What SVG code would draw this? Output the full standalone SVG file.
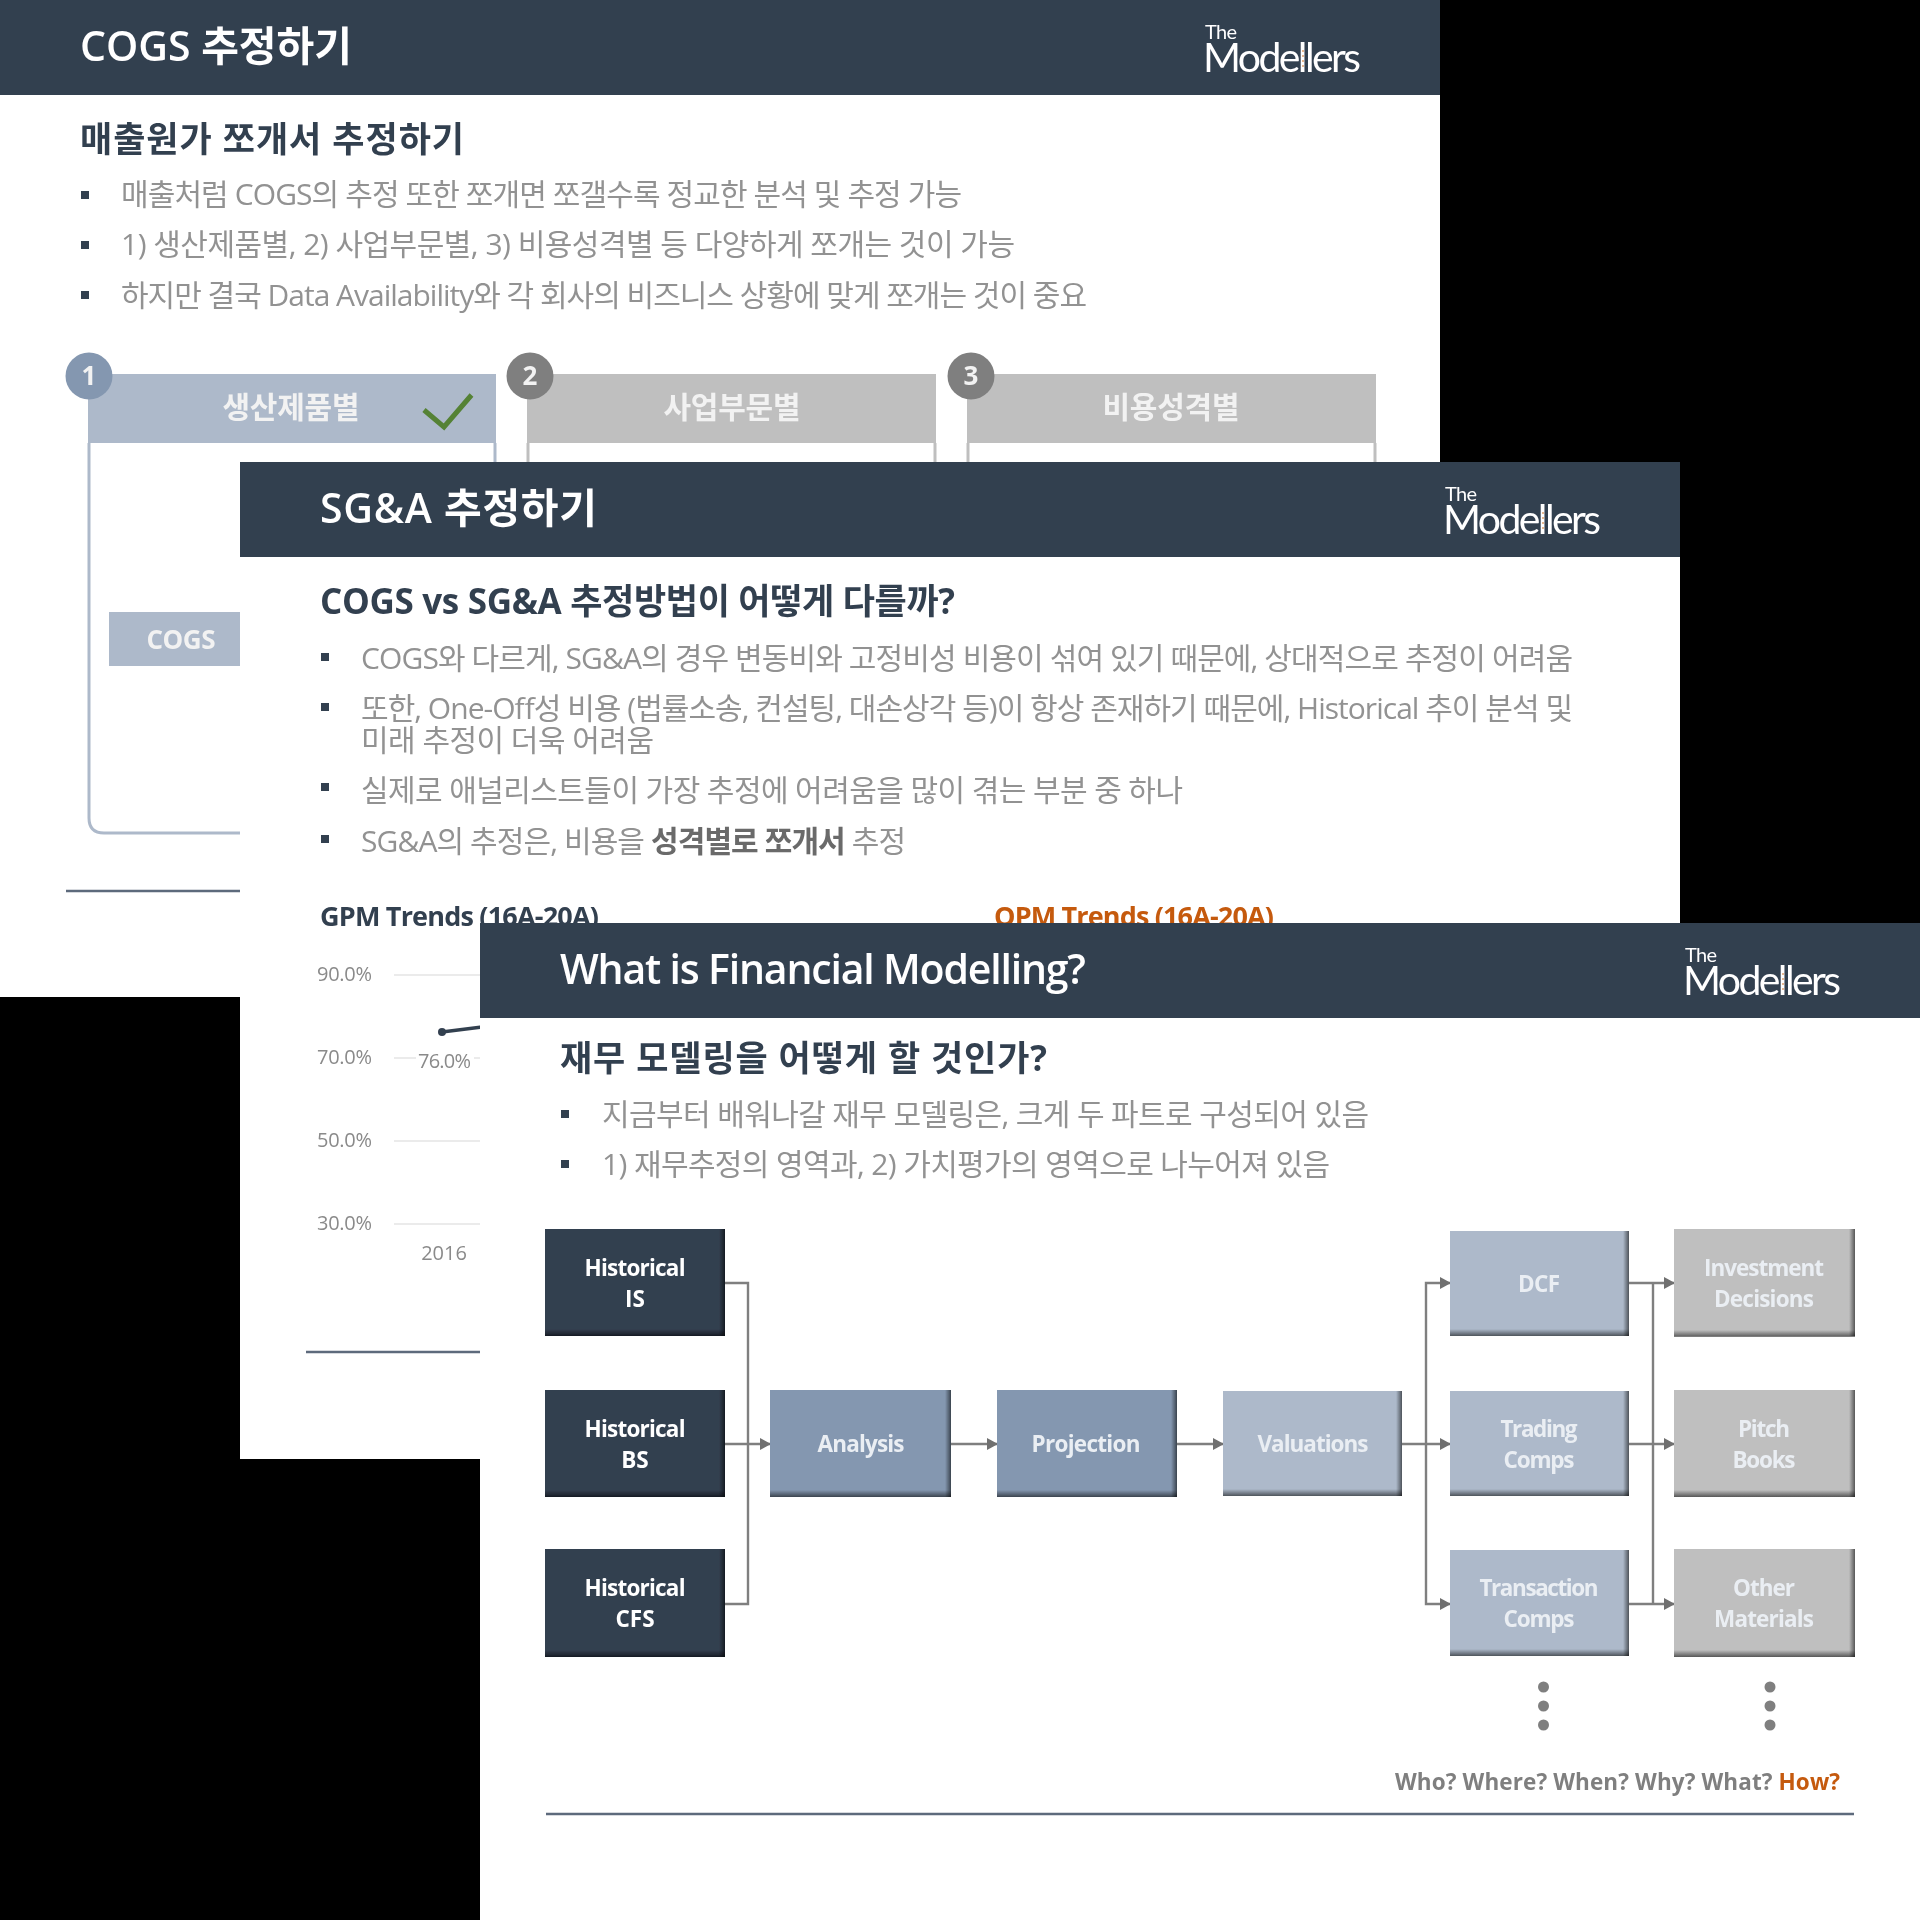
<svg xmlns="http://www.w3.org/2000/svg" width="1920" height="1920" viewBox="0 0 1920 1920">
<style>
text{font-family:"Open Sans","Noto Sans CJK KR",sans-serif}
.hdr{fill:#333f50}
.ttl{font-size:41px;font-weight:600;fill:#fff}
.sub{font-size:35px;font-weight:700;fill:#333f50}
.bul{font-size:30px;fill:#929292}
.bold{font-weight:700;fill:#6a6a6a}
.sq{fill:#333f50}
.logoA{font-family:Lato,"Open Sans",sans-serif;font-size:20px;font-weight:400;fill:#fff}
.logoB{font-family:Lato,"Open Sans",sans-serif;font-size:41px;font-weight:400;fill:#fff}
.ldot{stroke:#d98a4a;stroke-width:1.2;stroke-dasharray:2 3;fill:none}
.foot{stroke:#5d6a7c;stroke-width:2.5;fill:none}
.hlab{font-size:30px;font-weight:700;fill:#f2f2f2;text-anchor:middle}
.num{font-size:26px;font-weight:700;fill:#f2f2f2;text-anchor:middle}
.axis{font-size:20px;fill:#8a8a8a}
.grid{stroke:#ebebeb;stroke-width:2}
.lab{font-size:22.5px;font-weight:700;fill:#fff;text-anchor:middle}
.lab2{font-size:22.5px;font-weight:700;fill:#eaeef3;text-anchor:middle}
.n0{fill:#333f50}.n1{fill:#8497b0}.n2{fill:#adb9ca}.n3{fill:#bfbfbf}
.bR{fill:url(#gR)}.bB{fill:url(#gB)}
.conn{fill:none;stroke:#7f7f7f;stroke-width:2.4}
.arr{marker-end:url(#ah)}
.dot{fill:#7f7f7f}
</style>
<defs>
<linearGradient id="gR" x1="0" y1="0" x2="1" y2="0"><stop offset="0" stop-color="#000" stop-opacity="0"/><stop offset="1" stop-color="#000" stop-opacity=".55"/></linearGradient>
<linearGradient id="gB" x1="0" y1="0" x2="0" y2="1"><stop offset="0" stop-color="#000" stop-opacity="0"/><stop offset="1" stop-color="#000" stop-opacity=".55"/></linearGradient>
<marker id="ah" markerUnits="userSpaceOnUse" markerWidth="12" markerHeight="14" refX="10" refY="7" orient="auto"><path d="M0 1L11 7L0 13z" fill="#6f6f6f"/></marker>
<filter id="soft" filterUnits="userSpaceOnUse" x="0" y="0" width="1920" height="1920"><feGaussianBlur stdDeviation="0.7"/></filter>
</defs>
<rect width="1920" height="1920" fill="#000"/>
<g filter="url(#soft)">
<g id="slide-cogs">
<rect width="1440" height="997" fill="#fff"/>
<rect class="hdr" width="1440" height="95"/>
<text class="ttl" x="80" y="61" textLength="272">COGS 추정하기</text>
<g><text class="logoA" x="1205" y="39" textLength="32">The</text><text class="logoB" x="1203" y="72" textLength="158">Modellers</text><path class="ldot" d="M1303 50V70"/></g>
<text class="sub" x="80" y="152" textLength="384">매출원가 쪼개서 추정하기</text>
<rect class="sq" x="81" y="191" width="8" height="8"/><rect class="sq" x="81" y="241" width="8" height="8"/><rect class="sq" x="81" y="291" width="8" height="8"/>
<text class="bul" x="121" y="205" textLength="841">매출처럼 COGS의 추정 또한 쪼개면 쪼갤수록 정교한 분석 및 추정 가능</text>
<text class="bul" x="121" y="255" textLength="894">1) 생산제품별, 2) 사업부문별, 3) 비용성격별 등 다양하게 쪼개는 것이 가능</text>
<text class="bul" x="121" y="306" textLength="966">하지만 결국 Data Availability와 각 회사의 비즈니스 상황에 맞게 쪼개는 것이 중요</text>
<g id="cogs-box1">
<path d="M89 443V818Q89 833 104 833H240" fill="none" stroke="#adb9ca" stroke-width="3"/>
<path d="M495 443V470" fill="none" stroke="#adb9ca" stroke-width="3"/>
<rect x="88" y="374" width="408" height="69" fill="#adb9ca"/>
<circle cx="89" cy="376" r="23.5" fill="#8497b0"/>
<text class="num" x="89" y="385">1</text>
<text class="hlab" x="291" y="418" textLength="137">생산제품별</text>
<path d="M424 410L444 427L471.5 395" fill="none" stroke="#548235" stroke-width="5"/>
<rect x="109" y="612" width="140" height="54" fill="#adb9ca"/>
<text x="181" y="649" font-size="26" font-weight="700" fill="#f2f2f2" text-anchor="middle" textLength="69">COGS</text>
</g>
<g id="cogs-box2">
<path d="M528 443V470M935 443V470" fill="none" stroke="#bfbfbf" stroke-width="3"/>
<rect x="527" y="374" width="409" height="69" fill="#bfbfbf"/>
<circle cx="530" cy="376" r="23.5" fill="#7f7f7f"/>
<text class="num" x="530" y="385">2</text>
<text class="hlab" x="732" y="418" textLength="137">사업부문별</text>
</g>
<g id="cogs-box3">
<path d="M968 443V470M1375 443V470" fill="none" stroke="#bfbfbf" stroke-width="3"/>
<rect x="967" y="374" width="409" height="69" fill="#bfbfbf"/>
<circle cx="971" cy="376" r="23.5" fill="#7f7f7f"/>
<text class="num" x="971" y="385">3</text>
<text class="hlab" x="1171" y="418" textLength="137">비용성격별</text>
</g>
<path class="foot" d="M66 891H245"/>
</g>
<g id="slide-sga">
<rect x="240" y="462" width="1440" height="997" fill="#fff"/>
<rect class="hdr" x="240" y="462" width="1440" height="95"/>
<text class="ttl" x="320" y="523" textLength="277">SG&amp;A 추정하기</text>
<g><text class="logoA" x="1445" y="501" textLength="32">The</text><text class="logoB" x="1443" y="534" textLength="158">Modellers</text><path class="ldot" d="M1543 512V532"/></g>
<text class="sub" x="320" y="614" textLength="635">COGS vs SG&amp;A 추정방법이 어떻게 다를까?</text>
<rect class="sq" x="321" y="653" width="8" height="8"/><rect class="sq" x="321" y="703" width="8" height="8"/><rect class="sq" x="321" y="783" width="8" height="8"/><rect class="sq" x="321" y="835" width="8" height="8"/>
<text class="bul" x="361" y="669" textLength="1212">COGS와 다르게, SG&amp;A의 경우 변동비와 고정비성 비용이 섞여 있기 때문에, 상대적으로 추정이 어려움</text>
<text class="bul" x="361" y="719" textLength="1212">또한, One-Off성 비용 (법률소송, 컨설팅, 대손상각 등)이 항상 존재하기 때문에, Historical 추이 분석 및</text>
<text class="bul" x="361" y="751" textLength="293">미래 추정이 더욱 어려움</text>
<text class="bul" x="361" y="801" textLength="822">실제로 애널리스트들이 가장 추정에 어려움을 많이 겪는 부분 중 하나</text>
<text class="bul" x="361" y="852" textLength="545">SG&amp;A의 추정은, 비용을 <tspan class="bold">성격별로 쪼개서</tspan> 추정</text>
<text x="320" y="926" font-size="27" font-weight="700" fill="#333f50" textLength="279">GPM Trends (16A-20A)</text>
<text x="994" y="926" font-size="27" font-weight="700" fill="#c55a11" textLength="280">OPM Trends (16A-20A)</text>
<g id="gpm-chart">
<path class="grid" d="M394 975H490M394 1058H490M394 1141H490M394 1224H490"/>
<text class="axis" x="317" y="981" textLength="55">90.0%</text>
<text class="axis" x="317" y="1064" textLength="55">70.0%</text>
<text class="axis" x="317" y="1147" textLength="55">50.0%</text>
<text class="axis" x="317" y="1230" textLength="55">30.0%</text>
<path d="M442 1032L490 1026" fill="none" stroke="#333f50" stroke-width="3.5"/><circle cx="442" cy="1032" r="4" fill="#333f50"/>
<rect x="416" y="1050" width="58" height="22" fill="#fff"/>
<text class="axis" x="418" y="1068" textLength="53" fill="#7a7a7a">76.0%</text>
<text class="axis" x="444" y="1260" text-anchor="middle">2016</text>
</g>
<path class="foot" d="M306 1352H490"/>
</g>
<g id="slide-modelling">
<rect x="480" y="923" width="1440" height="997" fill="#fff"/>
<rect class="hdr" x="480" y="923" width="1440" height="95"/>
<text class="ttl" x="560" y="984" textLength="526">What is Financial Modelling?</text>
<g><text class="logoA" x="1685" y="962" textLength="32">The</text><text class="logoB" x="1683" y="995" textLength="158">Modellers</text><path class="ldot" d="M1783 973V993"/></g>
<text class="sub" x="560" y="1071" textLength="487">재무 모델링을 어떻게 할 것인가?</text>
<rect class="sq" x="561" y="1110" width="8" height="8"/><rect class="sq" x="561" y="1160" width="8" height="8"/>
<text class="bul" x="602" y="1125" textLength="767">지금부터 배워나갈 재무 모델링은, 크게 두 파트로 구성되어 있음</text>
<text class="bul" x="602" y="1175" textLength="728">1) 재무추정의 영역과, 2) 가치평가의 영역으로 나누어져 있음</text>
<g id="connectors">
<path class="conn" d="M725 1283H748V1604H725"/>
<path class="conn arr" d="M725 1444H770"/>
<path class="conn arr" d="M951 1444H997"/>
<path class="conn arr" d="M1177 1444H1223"/>
<path class="conn arr" d="M1402 1444H1450"/>
<path class="conn arr" d="M1426 1444V1283H1450"/>
<path class="conn arr" d="M1426 1444V1604H1450"/>
<path class="conn arr" d="M1629 1283H1674"/>
<path class="conn arr" d="M1629 1444H1674"/>
<path class="conn arr" d="M1629 1604H1674"/>
<path class="conn" d="M1653 1283V1604"/>
</g>
<g id="node-historical-is"><rect class="n0" x="545" y="1229" width="180" height="107"/><rect class="bR" x="719" y="1229" width="6" height="107"/><rect class="bB" x="545" y="1329" width="180" height="7"/><text class="lab" x="635" y="1276" textLength="101">Historical</text><text class="lab" x="635" y="1307">IS</text></g>
<g id="node-historical-bs"><rect class="n0" x="545" y="1390" width="180" height="107"/><rect class="bR" x="719" y="1390" width="6" height="107"/><rect class="bB" x="545" y="1490" width="180" height="7"/><text class="lab" x="635" y="1437" textLength="101">Historical</text><text class="lab" x="635" y="1468">BS</text></g>
<g id="node-historical-cfs"><rect class="n0" x="545" y="1549" width="180" height="108"/><rect class="bR" x="719" y="1549" width="6" height="108"/><rect class="bB" x="545" y="1650" width="180" height="7"/><text class="lab" x="635" y="1596" textLength="101">Historical</text><text class="lab" x="635" y="1627">CFS</text></g>
<g id="node-analysis"><rect class="n1" x="770" y="1390" width="181" height="107"/><rect class="bR" x="945" y="1390" width="6" height="107"/><rect class="bB" x="770" y="1490" width="181" height="7"/><text class="lab2" x="861" y="1452" textLength="87">Analysis</text></g>
<g id="node-projection"><rect class="n1" x="997" y="1390" width="180" height="107"/><rect class="bR" x="1171" y="1390" width="6" height="107"/><rect class="bB" x="997" y="1490" width="180" height="7"/><text class="lab2" x="1086" y="1452" textLength="109">Projection</text></g>
<g id="node-valuations"><rect class="n2" x="1223" y="1391" width="179" height="105"/><rect class="bR" x="1396" y="1391" width="6" height="105"/><rect class="bB" x="1223" y="1489" width="179" height="7"/><text class="lab2" x="1313" y="1452" textLength="111">Valuations</text></g>
<g id="node-dcf"><rect class="n2" x="1450" y="1231" width="179" height="105"/><rect class="bR" x="1623" y="1231" width="6" height="105"/><rect class="bB" x="1450" y="1329" width="179" height="7"/><text class="lab2" x="1539" y="1292" textLength="42">DCF</text></g>
<g id="node-trading"><rect class="n2" x="1450" y="1391" width="179" height="105"/><rect class="bR" x="1623" y="1391" width="6" height="105"/><rect class="bB" x="1450" y="1489" width="179" height="7"/><text class="lab2" x="1539" y="1437" textLength="77">Trading</text><text class="lab2" x="1539" y="1468" textLength="71">Comps</text></g>
<g id="node-transaction"><rect class="n2" x="1450" y="1550" width="179" height="106"/><rect class="bR" x="1623" y="1550" width="6" height="106"/><rect class="bB" x="1450" y="1649" width="179" height="7"/><text class="lab2" x="1539" y="1596" textLength="119">Transaction</text><text class="lab2" x="1539" y="1627" textLength="71">Comps</text></g>
<g id="node-investment"><rect class="n3" x="1674" y="1229" width="181" height="107"/><rect class="bR" x="1849" y="1229" width="6" height="107"/><rect class="bB" x="1674" y="1330" width="181" height="7"/><text class="lab2" x="1764" y="1276" textLength="120">Investment</text><text class="lab2" x="1764" y="1307" textLength="100">Decisions</text></g>
<g id="node-pitch"><rect class="n3" x="1674" y="1390" width="181" height="107"/><rect class="bR" x="1849" y="1390" width="6" height="107"/><rect class="bB" x="1674" y="1490" width="181" height="7"/><text class="lab2" x="1764" y="1437" textLength="52">Pitch</text><text class="lab2" x="1764" y="1468" textLength="63">Books</text></g>
<g id="node-other"><rect class="n3" x="1674" y="1549" width="181" height="108"/><rect class="bR" x="1849" y="1549" width="6" height="108"/><rect class="bB" x="1674" y="1650" width="181" height="7"/><text class="lab2" x="1764" y="1596" textLength="62">Other</text><text class="lab2" x="1764" y="1627" textLength="100">Materials</text></g>
<g id="ellipsis-left"><circle class="dot" cx="1543.5" cy="1687" r="5.5"/><circle class="dot" cx="1543.5" cy="1706" r="5.5"/><circle class="dot" cx="1543.5" cy="1725" r="5.5"/></g>
<g id="ellipsis-right"><circle class="dot" cx="1770" cy="1687" r="5.5"/><circle class="dot" cx="1770" cy="1706" r="5.5"/><circle class="dot" cx="1770" cy="1725" r="5.5"/></g>
<text x="1395" y="1790" font-size="22.5" font-weight="700" fill="#7f7f7f" textLength="445">Who? Where? When? Why? What? <tspan fill="#c55a11">How?</tspan></text>
<path class="foot" d="M546 1814H1854"/>
</g>
</g>
</svg>
